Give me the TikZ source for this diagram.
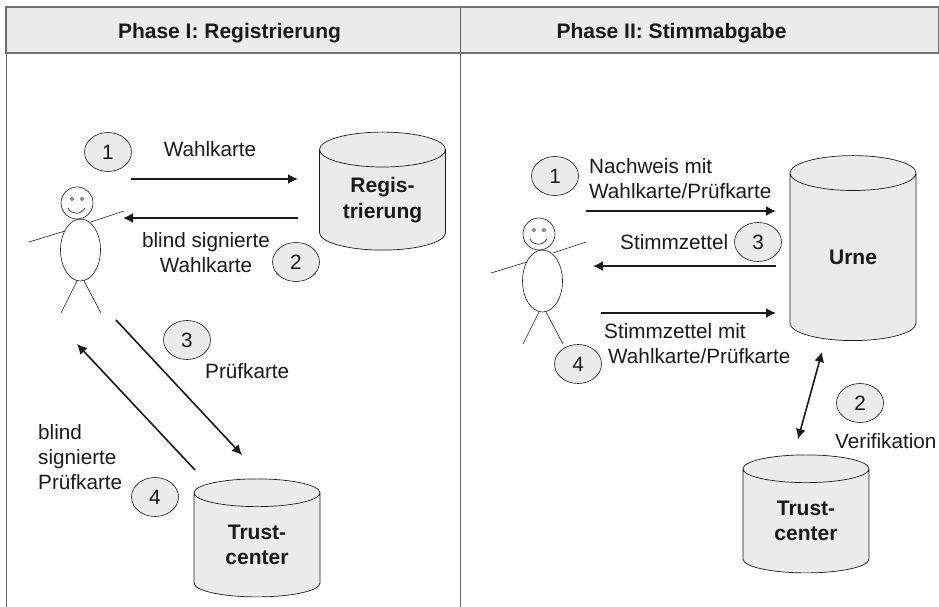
\documentclass[tikz,border=0pt]{standalone}
\usepackage{fontspec}
\setmainfont{Liberation Sans}
\usetikzlibrary{arrows.meta,shapes.geometric}
\definecolor{panelgrey}{HTML}{EBEBEB}
\definecolor{inkdark}{HTML}{1A1A1A}
\tikzset{%
  every node/.style={font=\fontsize{20.7}{25}\selectfont, text=inkdark},
  phasebox/.style={draw=black!55, line width=1.4pt, fill=panelgrey},
  phasetitle/.style={font=\fontsize{21}{25}\selectfont\bfseries},
  divider/.style={draw=black!60, line width=1pt},
  store/.style={draw=inkdark, line width=.7pt, shape=cylinder, shape border rotate=90, aspect=.44,
    cylinder uses custom fill, cylinder body fill=panelgrey, cylinder end fill=panelgrey,
    minimum width=126pt, inner sep=0pt, align=center, font=\fontsize{21}{25.5}\selectfont\bfseries},
  badge/.style={draw=inkdark, line width=.6pt, fill=panelgrey, shape=ellipse, inner sep=0pt,
    minimum width=47pt, minimum height=39pt},
  msg/.style={align=left, anchor=west, inner sep=0pt},
  flow/.style={draw=inkdark, line width=1.6pt, -{Latex[length=10pt,width=10pt]}},
  twoway/.style={flow, {Latex[length=10pt,width=10pt]}-{Latex[length=10pt,width=10pt]}},
  limb/.style={draw=inkdark, line width=.6pt},
}
\newcommand{\stickman}[3]{%
  \begin{scope}[shift={(#2,#3)}]
    \node (#1head) [draw=inkdark, line width=.6pt, circle, minimum size=32pt, inner sep=0pt] at (77,203) {};
    \node (#1body) [draw=inkdark, line width=.6pt, ellipse, minimum width=40pt, minimum height=62pt, inner sep=0pt] at (80.5,250) {};
    \draw [limb] (72,199) circle (1.5) (82,199) circle (1.5);
    \draw [limb] (68,208) .. controls (71,215) and (81,215) .. (85,208);
    \draw [limb] (29,242) -- (65,231);
    \draw [limb] (91,222) -- (124,211);
    \draw [limb] (77,281) -- (61,313);
    \draw [limb] (84,281) -- (101,313);
  \end{scope}}

\begin{document}
\begin{tikzpicture}[x=1pt,y=-1pt]
  \useasboundingbox (0,0) rectangle (939,607);

  % header band and columns
  \path [phasebox] (6,7) rectangle (939,53);
  \path [divider] (6,7) -- (6,607);
  \path [divider] (460.5,7) -- (460.5,607);
  \node (titlea) [phasetitle] at (229.5,33) {Phase I: Registrierung};
  \node (titleb) [phasetitle] at (671.5,33) {Phase II: Stimmabgabe};

  % Phase I
  \stickman{voterA}{0}{0}
  \node (regist) [store, minimum height=118pt] at (382.5,200) {Regis-\\trierung};
  \node (trusta) [store, minimum height=118pt] at (257,545) {Trust-\\center};

  \node (a1) [badge] at (108,152) {1};
  \node (a2) [badge] at (296,262) {2};
  \node (a3) [badge] at (187,340) {3};
  \node (a4) [badge] at (155,497) {4};

  \node (wka) at (210,149) {Wahlkarte};
  \node (wkb) [align=center] at (206,253) {blind signierte\\Wahlkarte};
  \node (pka) [msg] at (205,371) {Prüfkarte};
  \node (pkb) [msg] at (38,457) {blind\\signierte\\Prüfkarte};

  \coordinate (fa1) at (131,179);  \coordinate (ta1) at (298,179);
  \coordinate (fa2) at (298,218);  \coordinate (ta2) at (123,218);
  \coordinate (fa3) at (116,320);  \coordinate (ta3) at (242,455);
  \coordinate (fa4) at (195,470);  \coordinate (ta4) at (77,344);
  \path [flow] (fa1) -- (ta1);
  \path [flow] (fa2) -- (ta2);
  \path [flow] (fa3) -- (ta3);
  \path [flow] (fa4) -- (ta4);

  % Phase II
  \stickman{voterB}{462}{31}
  \node (urne) [store, aspect=.73, minimum height=185pt] at (853,257) {Urne};
  \node (trustb) [store, minimum height=118pt] at (806,521) {Trust-\\center};

  \node (b1) [badge] at (555,176) {1};
  \node (b2) [badge] at (860,403) {2};
  \node (b3) [badge] at (758,242) {3};
  \node (b4) [badge] at (578,364) {4};

  \node (nachweis) [msg] at (589,179) {Nachweis mit\\Wahlkarte/Prüfkarte};
  \node (zettel) [msg] at (620,242) {Stimmzettel};
  \node (zettelmit) [msg] at (604,344) {Stimmzettel mit\\\hspace*{4pt}Wahlkarte/Prüfkarte};
  \node (verif) [msg] at (835,441) {Verifikation};

  \coordinate (fb1) at (586,211);  \coordinate (tb1) at (776,211);
  \coordinate (fb3) at (776,266);  \coordinate (tb3) at (593,266);
  \coordinate (fb4) at (601,313);  \coordinate (tb4) at (776,313);
  \coordinate (fb2) at (822,352);  \coordinate (tb2) at (798,439);
  \path [flow] (fb1) -- (tb1);
  \path [flow] (fb3) -- (tb3);
  \path [flow] (fb4) -- (tb4);
  \path [twoway] (fb2) -- (tb2);
\end{tikzpicture}
\end{document}
